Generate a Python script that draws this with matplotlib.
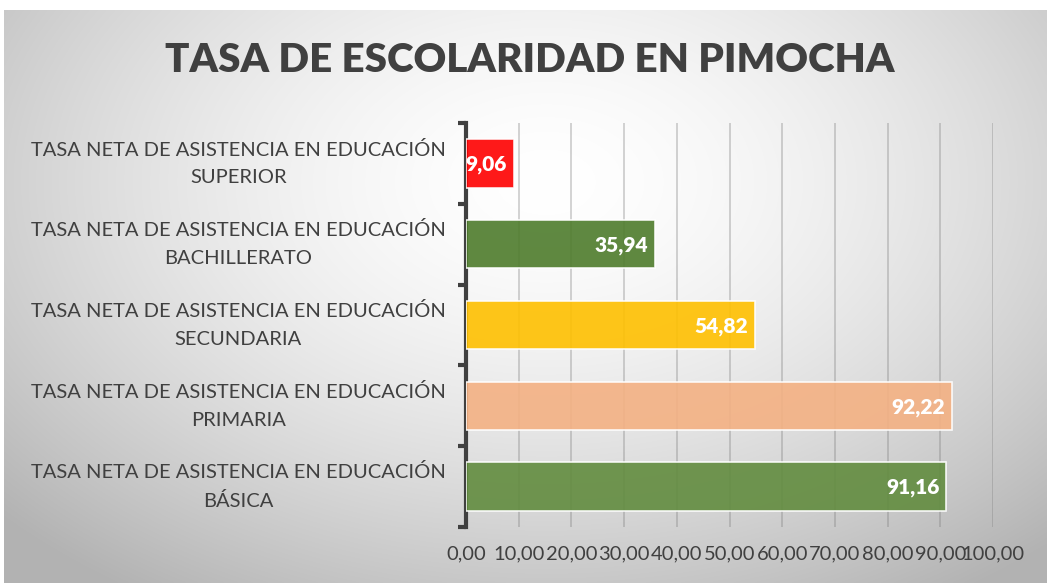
import numpy as np
import matplotlib
matplotlib.use("Agg")
import matplotlib.pyplot as plt

categories = [
    "TASA NETA DE ASISTENCIA EN EDUCACIÓN\nBÁSICA",
    "TASA NETA DE ASISTENCIA EN EDUCACIÓN\nPRIMARIA",
    "TASA NETA DE ASISTENCIA EN EDUCACIÓN\nSECUNDARIA",
    "TASA NETA DE ASISTENCIA EN EDUCACIÓN\nBACHILLERATO",
    "TASA NETA DE ASISTENCIA EN EDUCACIÓN\nSUPERIOR",
]
values = [91.16, 92.22, 54.82, 35.94, 9.06]
colors = ["#628c3f", "#f4b183", "#ffc000", "#4e7c2c", "#ff0000"]
x_ticks = list(range(0, 101, 10))

TEXT = "#404040"
LABEL_FONT = ["Lato", "DejaVu Sans"]

fig = plt.figure(figsize=(10.47, 5.83), dpi=100)
fig.patch.set_facecolor("white")

# radial grey background of the chart area
bg = fig.add_axes([4 / 1047, 0, 1 - 4 / 1047, 1 - 10 / 583])
bg.set_axis_off()
h, w = 300, 540
yy, xx = np.mgrid[0:h, 0:w]
dx = (xx / (w - 1) - 0.52) / 0.62
dy = (yy / (h - 1) - 0.30) / 0.75
r = np.clip(np.sqrt(dx ** 2 + dy ** 2), 0, 1.15)
shade = 1.0 - 0.24 * r ** 1.6
bg.imshow(np.dstack([shade] * 3), aspect="auto", extent=[0, 1, 0, 1],
          origin="upper", interpolation="bilinear")
bg.set_xlim(0, 1)
bg.set_ylim(0, 1)

ax = fig.add_axes([466 / 1047, 56 / 583, 527 / 1047, 404 / 583])
ax.patch.set_alpha(0)

ypos = np.arange(len(values))
bars = ax.barh(ypos, values, height=0.6, color=colors, alpha=0.9,
               edgecolor="white", linewidth=1.2, zorder=3)

for y, v in zip(ypos, values):
    ax.annotate(f"{v:.2f}".replace(".", ","), xy=(v, y), xytext=(-5, -1),
                textcoords="offset points", ha="right", va="center",
                color="white", fontsize=15, fontweight="heavy",
                family=LABEL_FONT, zorder=5)

ax.set_xlim(0, 100)
ax.set_ylim(-0.5, len(values) - 0.5)
ax.set_xticks(x_ticks)
ax.set_xticklabels([f"{t:.2f}".replace(".", ",") for t in x_ticks],
                   fontsize=14.5, color=TEXT, family=LABEL_FONT)
ax.tick_params(axis="x", length=0, pad=13)
ax.grid(axis="x", color="#7a7a7a", alpha=0.35, linewidth=1.3, zorder=0)

# category boundaries get the tick marks, labels sit between them
ax.set_yticks(np.arange(-0.5, len(values)), labels=[])
ax.set_yticks(ypos, minor=True)
ax.set_yticklabels(categories, minor=True, fontsize=14.5, color=TEXT,
                   family=LABEL_FONT, ha="center", va="center",
                   linespacing=1.75)
ax.tick_params(axis="y", which="major", length=6, width=3, color="#404040",
               direction="out")
ax.tick_params(axis="y", which="minor", length=0, pad=164)

for side in ("top", "right", "bottom"):
    ax.spines[side].set_visible(False)
ax.spines["left"].set_color("#404040")
ax.spines["left"].set_linewidth(3)

fig.text(530 / 1047, 1 - 61 / 583, "TASA DE ESCOLARIDAD EN PIMOCHA",
         ha="center", va="center", fontsize=29, fontweight="heavy",
         color=TEXT, family=LABEL_FONT)

fig.savefig("out.png", dpi=100)
